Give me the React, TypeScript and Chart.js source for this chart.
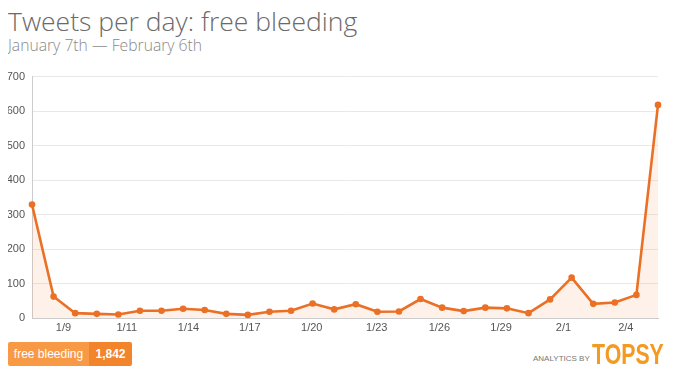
import React, { useEffect, useRef } from "react";
import { Chart, registerables } from "chart.js";

Chart.register(...registerables);

const dayIndex = [0,1,2,3,4,5,6,7,8,9,10,11,12,13,14,15,16,17,18,19,20,21,22,23,24,25,26,27,28,29];
const tweets = [329,62,14,12,10,21,21,27,23,12,9,18,21,42,25,40,18,19,55,30,20,30,28,14,54,117,41,45,67,618];
const tickPositions = [1.46, 4.39, 7.25, 10.09, 12.96, 15.97, 18.87, 21.73, 24.62, 27.51];
const tickLabels = ["1/9", "1/11", "1/14", "1/17", "1/20", "1/23", "1/26", "1/29", "2/1", "2/4"];
const yTicks = [0, 100, 200, 300, 400, 500, 600, 700];
const seriesName = "free bleeding";
const totalLabel = "1,842";

export default function App() {
  const ref = useRef<HTMLCanvasElement>(null);
  useEffect(() => {
    if (!ref.current) return;
    const chart = new Chart(ref.current, {
      type: "line",
      data: {
        datasets: [
          {
            label: seriesName,
            data: dayIndex.map((x, i) => ({ x, y: tweets[i] })),
            borderColor: "#EA7026",
            backgroundColor: "rgba(248, 170, 120, 0.16)",
            borderWidth: 2.6,
            pointRadius: 3.3,
            pointBackgroundColor: "#EA7026",
            pointBorderColor: "#EA7026",
            pointBorderWidth: 0,
            fill: "origin",
            tension: 0,
            clip: false as any,
          },
        ],
      },
      options: {
        animation: false,
        responsive: false,
        maintainAspectRatio: false,
        layout: { padding: { top: 3, right: 14, left: 0, bottom: 0 } },
        plugins: { legend: { display: false }, tooltip: { enabled: false } },
        scales: {
          x: {
            type: "linear",
            min: 0,
            max: 29,
            afterBuildTicks: (scale: any) => {
              scale.ticks = tickPositions.map((v) => ({ value: v }));
            },
            afterFit: (scale: any) => {
              scale.height = 20;
            },
            ticks: {
              autoSkip: false,
              maxRotation: 0,
              padding: 3,
              color: "#555",
              font: { family: "Liberation Sans", size: 11 },
              callback: (_v: any, i: number) => tickLabels[i],
            },
            grid: { display: false, drawTicks: false },
            border: { display: true, color: "#cccccc", width: 1 },
          },
          y: {
            min: 0,
            max: 700,
            afterBuildTicks: (scale: any) => {
              scale.ticks = yTicks.map((v) => ({ value: v }));
            },
            afterFit: (scale: any) => {
              scale.width = 24;
            },
            ticks: {
              padding: 7,
              color: "#555",
              font: { family: "Liberation Sans", size: 11 },
            },
            grid: { color: "#e8e8e8", drawTicks: false },
            border: { display: true, color: "#cccccc", width: 1 },
          },
        },
      },
    });
    return () => chart.destroy();
  }, []);

  return (
    <div style={{ position: "relative", width: 664, height: 368, fontFamily: "'Open Sans', sans-serif" }}>
      <div
        style={{
          position: "absolute",
          left: 0,
          top: -7,
          fontSize: 26.5,
          fontWeight: 300,
          color: "#6a6a6a",
          whiteSpace: "nowrap",
          lineHeight: "40px",
        }}
      >
        Tweets per day: free bleeding
      </div>
      <div
        style={{
          position: "absolute",
          left: 0,
          top: 26,
          fontSize: 15.7,
          fontWeight: 300,
          color: "#888",
          whiteSpace: "nowrap",
          lineHeight: "22px",
        }}
      >
        January 7th — February 6th
      </div>
      <canvas ref={ref} width={664} height={275} style={{ position: "absolute", left: 0, top: 55, width: 664, height: 275 }} />
      <div
        style={{
          position: "absolute",
          left: 0,
          top: 334,
          height: 24,
          display: "flex",
          fontFamily: "'Liberation Sans', Arial, sans-serif",
          fontSize: 12,
          color: "#fff",
          borderRadius: 2,
          overflow: "hidden",
        }}
      >
        <div style={{ background: "#F89A45", width: 81, lineHeight: "24px", textAlign: "center" }}>{seriesName}</div>
        <div style={{ background: "#F2842B", width: 43, lineHeight: "24px", textAlign: "center", fontWeight: 700 }}>{totalLabel}</div>
      </div>
      <div style={{ position: "absolute", left: 525, top: 346, fontFamily: "'Liberation Sans', Arial, sans-serif", fontSize: 8, color: "#777", whiteSpace: "nowrap" }}>
        ANALYTICS BY
      </div>
      <div
        style={{
          position: "absolute",
          left: 584,
          top: 331,
          fontFamily: "'Liberation Sans', Arial, sans-serif",
          fontSize: 30,
          fontWeight: 700,
          color: "#F39A22",
          whiteSpace: "nowrap",
          lineHeight: "30px",
          transform: "scaleX(0.71)",
          transformOrigin: "left top",
        }}
      >
        TOPSY
      </div>
    </div>
  );
}
